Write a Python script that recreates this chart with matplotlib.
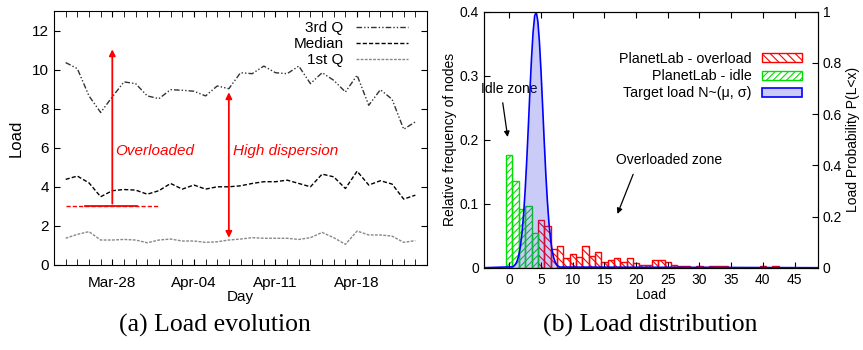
import datetime as dt
import numpy as np
import matplotlib.pyplot as plt
import matplotlib.dates as mdates
from matplotlib.patches import Patch
from matplotlib.lines import Line2D

plt.rcParams['font.family'] = ['Liberation Sans', 'DejaVu Sans']
plt.rcParams['hatch.linewidth'] = 0.8

# (a) Load evolution: daily quartiles, from Mar-24
first_day = dt.date(2011, 3, 24)
q3 = [10.38, 10.07, 8.67, 7.82, 8.62, 9.39, 9.30, 8.67, 8.53, 8.99, 8.96,
      8.91, 8.67, 9.18, 9.04, 9.86, 9.81, 10.20, 9.86, 9.81, 10.20, 9.30,
      9.86, 9.47, 8.87, 9.73, 8.19, 8.99, 8.50, 6.96, 7.34]
median = [4.39, 4.56, 4.21, 3.50, 3.81, 3.87, 3.84, 3.63, 3.81, 4.18, 3.89,
          4.10, 3.89, 4.01, 4.01, 4.06, 4.18, 4.27, 4.27, 4.35, 4.18, 4.01,
          4.66, 4.52, 3.92, 4.81, 4.10, 4.32, 4.15, 3.38, 3.58]
q1 = [1.37, 1.57, 1.71, 1.28, 1.28, 1.31, 1.28, 1.14, 1.28, 1.33, 1.23,
      1.23, 1.16, 1.19, 1.28, 1.33, 1.40, 1.37, 1.37, 1.37, 1.31, 1.40,
      1.67, 1.40, 1.06, 1.74, 1.54, 1.54, 1.48, 1.16, 1.25]
days = [first_day + dt.timedelta(days=i) for i in range(len(q3))]
week_ticks = [dt.date(2011, 3, 28), dt.date(2011, 4, 4), dt.date(2011, 4, 11), dt.date(2011, 4, 18)]
week_labels = ['Mar-28', 'Apr-04', 'Apr-11', 'Apr-18']

# (b) Load distribution
idle_load = [0, 1, 2, 3, 4]
idle_freq = [0.176, 0.136, 0.091, 0.097, 0.055]
over_load = list(range(5, 43))
over_freq = [0.0745, 0.065, 0.029, 0.034, 0.015, 0.022, 0.017, 0.034, 0.019, 0.025,
             0.009, 0.012, 0.015, 0.009, 0.015, 0.008, 0.004, 0.004, 0.012, 0.012,
             0.009, 0.004, 0.003, 0.003, 0.0, 0.002, 0.001, 0.002, 0.002, 0.002,
             0.0, 0.0, 0.0, 0.0, 0.0, 0.002, 0.0, 0.002]
target_x = [-4, 0.5, 0.75, 1.0, 1.25, 1.5, 1.75, 2.0, 2.25, 2.5, 2.75, 3.0, 3.25,
            3.5, 3.75, 4.0, 4.25, 4.5, 4.75, 5.0, 5.25, 5.5, 5.75, 6.0, 6.25,
            6.5, 6.75, 7.0, 7.25, 7.5, 7.75, 8.0, 49]
target_p = [0.0, 0.0035, 0.0073, 0.0145, 0.0274, 0.0492, 0.0837, 0.135, 0.208,
            0.303, 0.419, 0.551, 0.689, 0.817, 0.920, 0.984, 0.999, 0.963, 0.882,
            0.768, 0.634, 0.497, 0.370, 0.262, 0.176, 0.112, 0.068, 0.039, 0.0214,
            0.0111, 0.0055, 0.0026, 0.0]

red = '#ff0000'
green = '#00e000'
blue = '#0000ff'

fig = plt.figure(figsize=(8.63, 3.5), dpi=100)

# ---- (a)
ax = fig.add_axes([0.0626, 0.2429, 0.4322, 0.7243])
ax.plot(days, q3, color='#333333', lw=1, ls=(0, (4, 1.5, 1, 1.5, 1, 1.5)), label='3rd Q')
ax.plot(days, median, color='black', lw=1, ls=(0, (3, 1.5)), label='Median')
ax.plot(days, q1, color='#888888', lw=1, ls=(0, (2, 1)), label='1st Q')
ax.set_xlim(dt.date(2011, 3, 23), dt.date(2011, 4, 24))
ax.set_ylim(0, 13)
ax.set_yticks([0, 2, 4, 6, 8, 10, 12])
ax.set_xticks(week_ticks)
ax.set_xticklabels(week_labels)
ax.xaxis.set_minor_locator(mdates.DayLocator())
ax.tick_params(which='both', direction='in', top=True, right=True, length=4, labelsize=11)
ax.tick_params(axis='x', pad=8)
ax.set_xlabel('Day', fontsize=11, labelpad=0)
ax.set_ylabel('Load', fontsize=12, labelpad=6)
ax.legend(loc='upper right', bbox_to_anchor=(0.985, 1.015), frameon=False, markerfirst=False,
          fontsize=11, handlelength=3.4, labelspacing=0.12, handletextpad=0.8)

# overloaded threshold and arrows
ax.plot([dt.date(2011, 3, 24), dt.date(2011, 4, 1)], [3, 3], color=red, lw=1, ls=(0, (3, 1.5)))
ax.plot([dt.datetime(2011, 3, 25, 16), dt.datetime(2011, 3, 30, 3)], [3, 3], color=red, lw=1.3)
ax.annotate('', xy=(dt.date(2011, 3, 28), 11.2), xytext=(dt.date(2011, 3, 28), 3),
            arrowprops=dict(arrowstyle='-|>', color=red, lw=1.3, mutation_scale=9))
ax.text(dt.datetime(2011, 3, 28, 6), 5.85, 'Overloaded', color=red, style='italic',
        fontsize=11, va='center')
ax.annotate('', xy=(dt.date(2011, 4, 7), 9.0), xytext=(dt.date(2011, 4, 7), 1.25),
            arrowprops=dict(arrowstyle='<|-|>', color=red, lw=1.3, mutation_scale=9))
ax.text(dt.datetime(2011, 4, 7, 9), 5.85, 'High dispersion', color=red, style='italic',
        fontsize=11, va='center')

# ---- (b)
bx = fig.add_axes([0.5608, 0.2351, 0.387, 0.7314])
bx.bar(over_load, over_freq, width=1, facecolor='none', edgecolor=red, hatch='\\\\\\\\', lw=1)
bx.bar(idle_load, idle_freq, width=1, facecolor='none', edgecolor=green, hatch='/////', lw=1)
bx.set_xlim(-4, 48.7)
bx.set_ylim(0, 0.4)
bx.set_xticks(range(0, 46, 5))
bx.set_yticks([0, 0.1, 0.2, 0.3, 0.4])
bx.set_yticklabels(['0', '0.1', '0.2', '0.3', '0.4'])
bx.tick_params(direction='in', top=True, length=4, labelsize=10)
bx.set_xlabel('Load', fontsize=10, labelpad=1)
bx.set_ylabel('Relative frequency of nodes', fontsize=10, labelpad=2)

cx = bx.twinx()
cx.fill_between(target_x, target_p, color=(0.2, 0.2, 0.9, 0.25), lw=0)
cx.plot(target_x, target_p, color=blue, lw=1.2)
cx.set_ylim(0, 1)
cx.set_yticks([0, 0.2, 0.4, 0.6, 0.8, 1])
cx.set_yticklabels(['0', '0.2', '0.4', '0.6', '0.8', '1'])
cx.tick_params(direction='in', length=4, labelsize=10)
cx.set_ylabel('Load Probability P(L<x)', fontsize=10, labelpad=3)

handles = [Patch(facecolor='none', edgecolor=red, hatch='\\\\\\\\'),
           Patch(facecolor='none', edgecolor=green, hatch='/////'),
           Patch(facecolor=(0.2, 0.2, 0.9, 0.25), edgecolor=blue, lw=1.2)]
cx.legend(handles, ['PlanetLab - overload', 'PlanetLab - idle', 'Target load N~(μ, σ)'],
          loc='upper right', bbox_to_anchor=(0.99, 0.893), frameon=False, markerfirst=False,
          fontsize=10.3, handlelength=2.8, handleheight=0.6, labelspacing=0.22, handletextpad=0.7)

bx.text(-4.4, 0.28, 'Idle zone', fontsize=10, va='center')
bx.annotate('', xy=(-0.2, 0.2), xytext=(-1.1, 0.262),
            arrowprops=dict(arrowstyle='-|>', color='black', lw=0.9, mutation_scale=8))
bx.text(16.9, 0.169, 'Overloaded zone', fontsize=10, va='center')
bx.annotate('', xy=(16.9, 0.08), xytext=(19.7, 0.15),
            arrowprops=dict(arrowstyle='-|>', color='black', lw=0.9, mutation_scale=8))

fig.text(0.249, 0.071, '(a) Load evolution', fontsize=18.5, family='Liberation Serif',
         ha='center', va='center')
fig.text(0.753, 0.071, '(b) Load distribution', fontsize=18.5, family='Liberation Serif',
         ha='center', va='center')

fig.savefig('out.png', dpi=100)
